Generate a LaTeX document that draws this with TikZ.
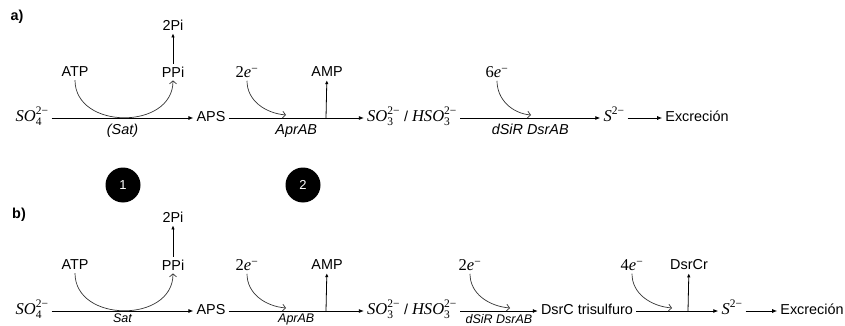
\documentclass[tikz,border=0pt]{standalone}
\usepackage{amsmath}
\usepackage{fontspec}
\setmainfont{Liberation Sans}
\newfontfamily\mathserif{Liberation Serif}[Scale=1.15]
\usepackage{tikz}
\usetikzlibrary{positioning,arrows.meta}
\newcommand{\diagfont}{\fontsize{14.4}{17}\selectfont}
\newcommand{\mi}[1]{\text{\mathserif\itshape #1}}
\newcommand{\mn}[1]{\text{\mathserif #1}}

\begin{document}
\begin{tikzpicture}[x=1pt,y=-1pt,font=\diagfont,
    chem/.style={inner xsep=3pt,inner ysep=0pt,text height=1.15em,text depth=0.43em},
    lbl/.style={inner sep=3pt},
    enz/.style={font=\diagfont\itshape,below=5pt,inner sep=1pt},
    enzb/.style={font=\fontsize{12.5}{15}\selectfont\itshape,below=2.8pt,inner sep=0pt},
    num/.style={circle,fill=black,text=white,minimum size=35pt,inner sep=0pt,font=\fontsize{13}{15}\selectfont},
    main/.style={-{Latex[length=5pt,width=4pt]},line width=0.8pt},
    up/.style={-{Latex[length=4pt,width=3.5pt]},line width=0.8pt},
    curvearr/.style={-{Straight Barb[length=3pt,width=7pt]},line width=0.7pt,black!80}
  ]
  \useasboundingbox (0,0) rectangle (845,326);
  \clip (0,0) rectangle (845,326);

  % a)
  \node[lbl,font=\diagfont\bfseries] (taga) at (17,17) {a)};
  \node[chem] (so4a) at (32,118) {$\mi{SO}_{\mn{4}}^{\mn{2−}}$};
  \node[chem] (apsa) at (211,118) {APS};
  \node[chem] (so3a) at (412,118) {$\mi{SO}_{\mn{3}}^{\mn{2−}}$ / $\mi{HSO}_{\mn{3}}^{\mn{2−}}$};
  \node[chem] (s2a) at (614,118) {$\mi{S}^{\mn{2−}}$};
  \node[chem] (exca) at (697,118) {Excreción};
  \node[lbl] (atpa) at (75,72) {ATP};
  \node[lbl] (ppia) at (173,72) {PPi};
  \node[lbl] (pia) at (173,25) {2Pi};
  \node[lbl] (e2a) at (247,72) {$\mn{2}\mi{e}^{\mn{−}}$};
  \node[lbl] (ampa) at (327,72) {AMP};
  \node[lbl] (e6a) at (497,72) {$\mn{6}\mi{e}^{\mn{−}}$};
  \coordinate (ampja) at (326,118);
  \coordinate (e2ja) at (286,115);
  \coordinate (e6ja) at (531,115);

  \draw[main] (so4a) -- node[enz]{(Sat)} (apsa);
  \draw[main] (apsa) -- node[enz]{AprAB} (so3a);
  \draw[main] (so3a) -- node[enz]{dSiR DsrAB} (s2a);
  \draw[main] (s2a) -- (exca);
  \draw[up] (ppia) -- (pia);
  \draw[up] (ampja) -- (ampa);
  \draw[curvearr] (atpa.south) to[out=-90,in=-90,looseness=1.3] (ppia.south);
  \draw[curvearr] (e2a.south) to[out=-90,in=175] (e2ja);
  \draw[curvearr] (e6a.south) to[out=-90,in=175] (e6ja);

  \node[num] (n1) at (123,185) {1};
  \node[num] (n2) at (303,185) {2};

  % b)
  \node[lbl,font=\diagfont\bfseries] (tagb) at (19,215) {b)};
  \node[chem] (so4b) at (32,311) {$\mi{SO}_{\mn{4}}^{\mn{2−}}$};
  \node[chem] (apsb) at (211,311) {APS};
  \node[chem] (so3b) at (412,311) {$\mi{SO}_{\mn{3}}^{\mn{2−}}$ / $\mi{HSO}_{\mn{3}}^{\mn{2−}}$};
  \node[chem] (dsrcb) at (587,311) {DsrC trisulfuro};
  \node[chem] (s2b) at (732,311) {$\mi{S}^{\mn{2−}}$};
  \node[chem] (excb) at (812,311) {Excreción};
  \node[lbl] (atpb) at (75,265) {ATP};
  \node[lbl] (ppib) at (173,265) {PPi};
  \node[lbl] (pib) at (173,217) {2Pi};
  \node[lbl] (e2b) at (247,265) {$\mn{2}\mi{e}^{\mn{−}}$};
  \node[lbl] (ampb) at (327,265) {AMP};
  \node[lbl] (e2c) at (470,265) {$\mn{2}\mi{e}^{\mn{−}}$};
  \node[lbl] (e4b) at (632,265) {$\mn{4}\mi{e}^{\mn{−}}$};
  \node[lbl] (dsrcrb) at (689,265) {DsrCr};
  \coordinate (ampjb) at (326,311);
  \coordinate (dsrcrjb) at (688,311);
  \coordinate (e2jb) at (286,308);
  \coordinate (e2jc) at (510,308);
  \coordinate (e4jb) at (672,308);

  \draw[main] (so4b) -- node[enzb]{Sat} (apsb);
  \draw[main] (apsb) -- node[enzb]{AprAB} (so3b);
  \draw[main] (so3b) -- node[enzb]{dSiR DsrAB} (dsrcb);
  \draw[main] (dsrcb) -- (s2b);
  \draw[main] (s2b) -- (excb);
  \draw[up] (ppib) -- (pib);
  \draw[up] (ampjb) -- (ampb);
  \draw[up] (dsrcrjb) -- (dsrcrb);
  \draw[curvearr] (atpb.south) to[out=-90,in=-90,looseness=1.3] (ppib.south);
  \draw[curvearr] (e2b.south) to[out=-90,in=175] (e2jb);
  \draw[curvearr] (e2c.south) to[out=-90,in=175] (e2jc);
  \draw[curvearr] (e4b.south) to[out=-90,in=175] (e4jb);
\end{tikzpicture}
\end{document}
